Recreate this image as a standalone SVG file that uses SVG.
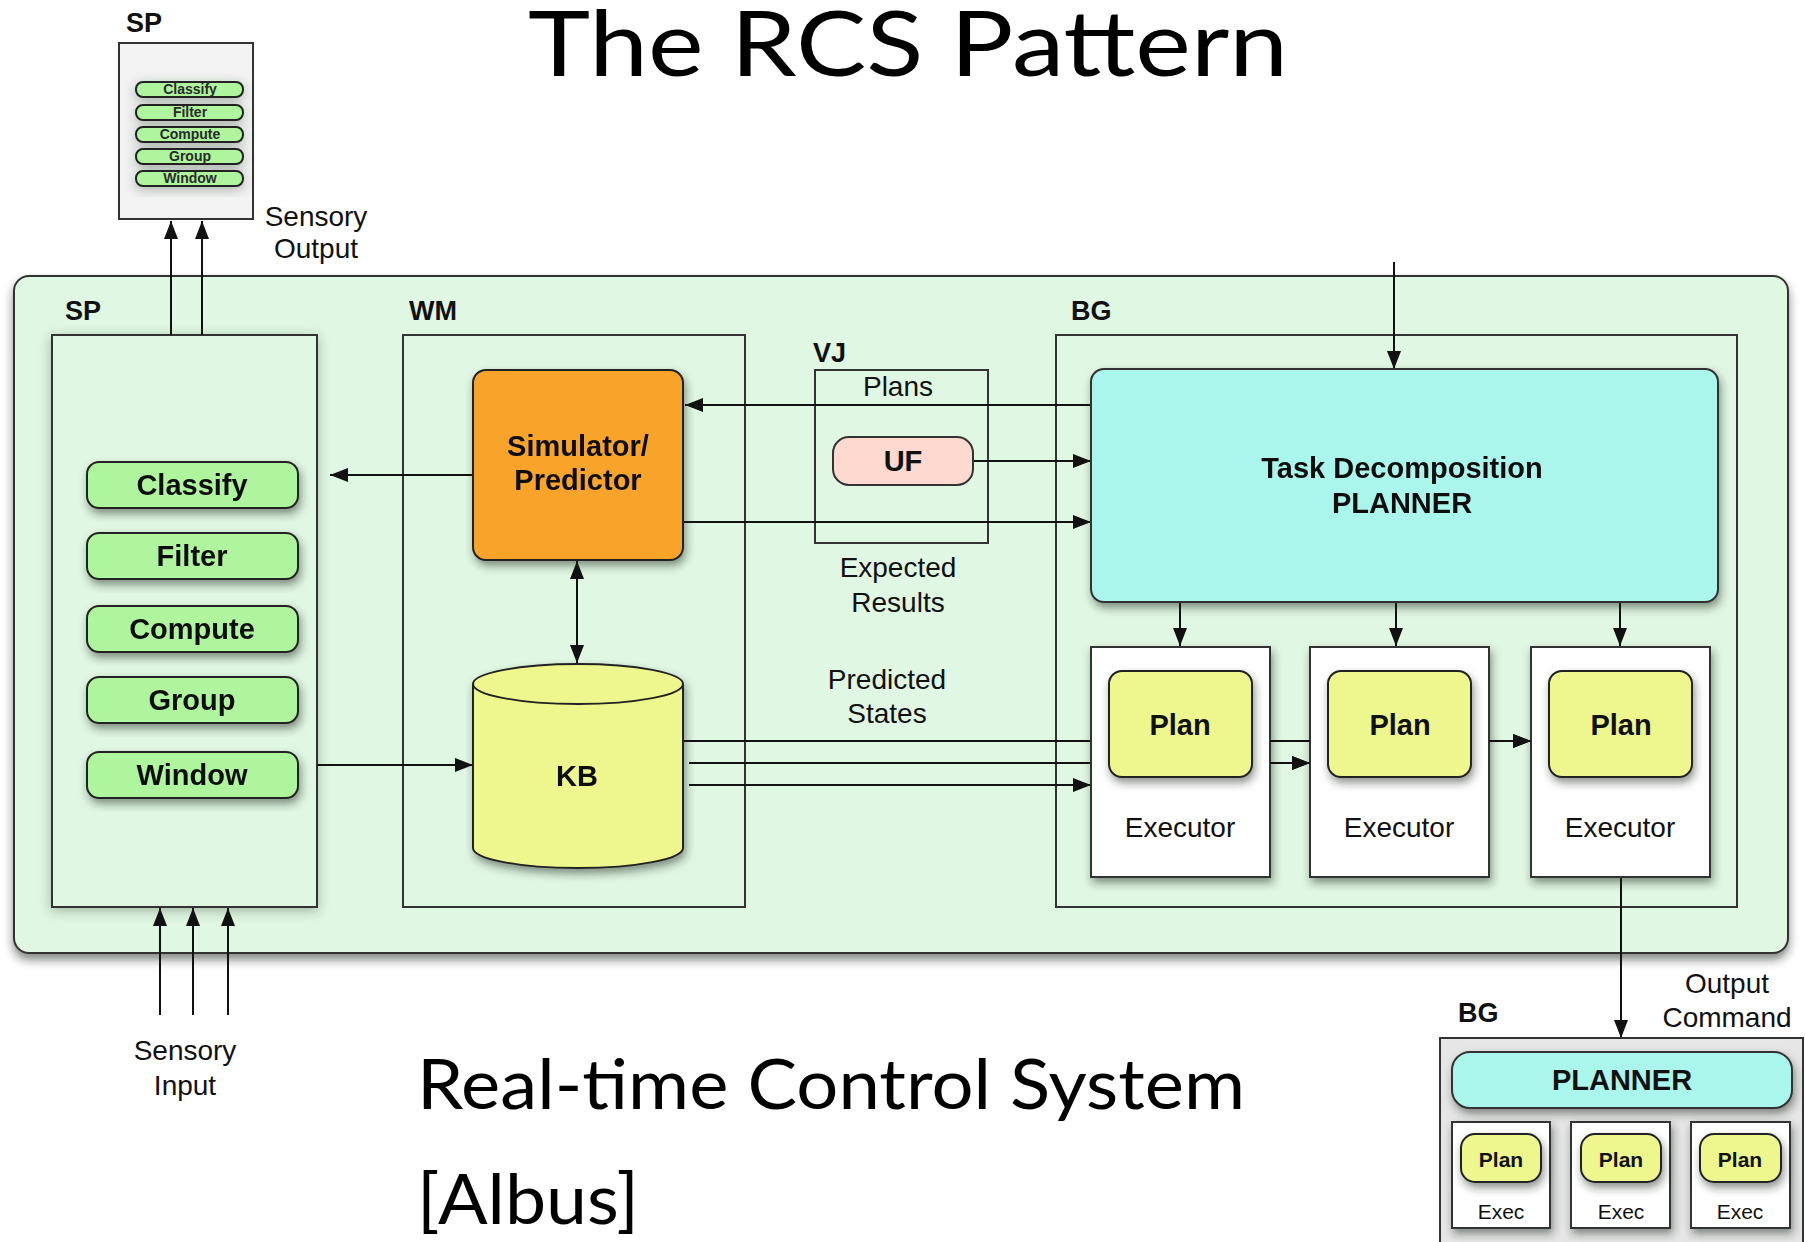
<svg xmlns="http://www.w3.org/2000/svg" width="1805" height="1242" viewBox="0 0 1805 1242">
  <defs>
    <marker id="arrow" markerUnits="userSpaceOnUse" markerWidth="18" markerHeight="14" refX="18" refY="7" orient="auto-start-reverse">
      <path d="M0,0 L18,7 L0,14 z" fill="#111"/>
    </marker>
    <filter id="shadow" x="-20%" y="-20%" width="140%" height="150%">
      <feDropShadow dx="0" dy="6" stdDeviation="5" flood-color="#1c2a1c" flood-opacity="0.55"/>
    </filter>
    <filter id="softShadow" x="-20%" y="-20%" width="140%" height="150%">
      <feDropShadow dx="2" dy="5" stdDeviation="4" flood-color="#1c2a1c" flood-opacity="0.5"/>
    </filter>
    <filter id="glow" x="-10%" y="-10%" width="120%" height="120%">
      <feDropShadow dx="0" dy="3" stdDeviation="6" flood-color="#2c3c2c" flood-opacity="0.35"/>
    </filter>
    <style>
      .title { font-family: Lato, "Open Sans", sans-serif; fill: #000; }
      .lbl { font-family: "Liberation Sans", Arial, sans-serif; font-size: 28px; fill: #111; text-anchor: middle; }
      .bold { font-family: "Liberation Sans", Arial, sans-serif; font-size: 29px; font-weight: bold; fill: #111; text-anchor: middle; }
      .tag { font-family: "Liberation Sans", Arial, sans-serif; font-size: 27px; font-weight: bold; fill: #111; }
      .frame { fill: #e0f7e3; stroke: #333; stroke-width: 2; }
      .btn { fill: #aef59e; stroke: #222; stroke-width: 2; }
      .edge { fill: none; stroke: #111; stroke-width: 2; }
      .arr { fill: none; stroke: #111; stroke-width: 2; marker-end: url(#arrow); }
      .plan { fill: #eef78d; stroke: #222; stroke-width: 2; }
      .exec { fill: #fff; stroke: #333; stroke-width: 2; }
      .cyan { fill: #abf6ec; stroke: #333; stroke-width: 2; }
    </style>
  </defs>

  <rect width="1805" height="1242" fill="#fff"/>

  <!-- Headings -->
  <text class="title" x="528" y="76" font-size="92" textLength="760" lengthAdjust="spacingAndGlyphs">The RCS Pattern</text>
  <text class="title" x="417" y="1109" font-size="70" textLength="828" lengthAdjust="spacingAndGlyphs">Real-time Control System</text>
  <text class="title" x="417" y="1224" font-size="70" textLength="222" lengthAdjust="spacingAndGlyphs">[Albus]</text>

  <!-- Upper-level sensory processing (miniature) -->
  <g id="sp-upper">
    <text class="tag" x="126" y="32" font-size="26">SP</text>
    <rect x="119" y="43" width="134" height="176" fill="#f3f3f3" stroke="#333" stroke-width="2"/>
    <g filter="url(#glow)">
      <rect class="btn" x="136" y="82" width="107" height="15" rx="7"/>
      <rect class="btn" x="136" y="105" width="107" height="15" rx="7"/>
      <rect class="btn" x="136" y="127" width="107" height="15" rx="7"/>
      <rect class="btn" x="136" y="149" width="107" height="15" rx="7"/>
      <rect class="btn" x="136" y="171" width="107" height="15" rx="7"/>
    </g>
    <g font-family="Liberation Sans, Arial, sans-serif" font-size="14" font-weight="bold" fill="#2a2a2a" text-anchor="middle">
      <text x="190" y="94">Classify</text>
      <text x="190" y="117">Filter</text>
      <text x="190" y="139">Compute</text>
      <text x="190" y="161">Group</text>
      <text x="190" y="183">Window</text>
    </g>
  </g>

  <!-- Main RCS node -->
  <g id="rcs-node">
    <rect x="14" y="276" width="1774" height="677" rx="15" fill="#e0f7e3" stroke="#333" stroke-width="2" filter="url(#shadow)"/>
    <text class="tag" x="65" y="320">SP</text>
    <text class="tag" x="409" y="320">WM</text>
    <text class="tag" x="1071" y="320">BG</text>
    <text class="tag" x="813" y="362">VJ</text>
  </g>

  <!-- Module frames -->
  <g id="sp-frame">
    <rect class="frame" x="52" y="335" width="265" height="572" filter="url(#glow)"/>
  </g>
  <g id="wm-frame">
    <rect class="frame" x="403" y="335" width="342" height="572"/>
  </g>
  <g id="bg-frame">
    <rect class="frame" x="1056" y="335" width="681" height="572"/>
  </g>
  <g id="vj-frame">
    <rect x="815" y="370" width="173" height="173" fill="none" stroke="#333" stroke-width="2"/>
  </g>

  <!-- Connectors -->
  <g id="connectors">
    <!-- sensory output to upper SP -->
    <line class="arr" x1="171" y1="335" x2="171" y2="221"/>
    <line class="arr" x1="202" y1="335" x2="202" y2="221"/>
    <!-- sensory input -->
    <line class="arr" x1="160" y1="1015" x2="160" y2="908"/>
    <line class="arr" x1="193" y1="1015" x2="193" y2="908"/>
    <line class="arr" x1="228" y1="1015" x2="228" y2="908"/>
    <!-- WM to SP, SP to WM -->
    <line class="arr" x1="473" y1="475" x2="330" y2="475"/>
    <line class="arr" x1="317" y1="765" x2="473" y2="765"/>
    <!-- simulator / KB -->
    <line class="arr" x1="577" y1="663" x2="577" y2="561" marker-start="url(#arrow)"/>
    <!-- plans, UF, expected results -->
    <line class="arr" x1="1091" y1="405" x2="685" y2="405"/>
    <line class="arr" x1="973" y1="461" x2="1091" y2="461"/>
    <line class="arr" x1="684" y1="522" x2="1091" y2="522"/>
    <!-- predicted states -->
    <line class="arr" x1="684" y1="741" x2="1531" y2="741"/>
    <line class="arr" x1="689" y1="763" x2="1310" y2="763"/>
    <line class="arr" x1="689" y1="785" x2="1091" y2="785"/>
    <!-- command input -->
    <line class="arr" x1="1394" y1="262" x2="1394" y2="369"/>
    <!-- planner to executors -->
    <line class="arr" x1="1180" y1="602" x2="1180" y2="646"/>
    <line class="arr" x1="1396" y1="602" x2="1396" y2="646"/>
    <line class="arr" x1="1620" y1="602" x2="1620" y2="646"/>
    <!-- output command -->
    <line class="arr" x1="1621" y1="877" x2="1621" y2="1038"/>
  </g>

  <!-- SP functions -->
  <g id="classify" filter="url(#softShadow)">
    <rect class="btn" x="87" y="462" width="211" height="46" rx="12"/>
    <text class="bold" x="192" y="495">Classify</text>
  </g>
  <g id="filter" filter="url(#softShadow)">
    <rect class="btn" x="87" y="533" width="211" height="46" rx="12"/>
    <text class="bold" x="192" y="566">Filter</text>
  </g>
  <g id="compute" filter="url(#softShadow)">
    <rect class="btn" x="87" y="606" width="211" height="46" rx="12"/>
    <text class="bold" x="192" y="639">Compute</text>
  </g>
  <g id="group" filter="url(#softShadow)">
    <rect class="btn" x="87" y="677" width="211" height="46" rx="12"/>
    <text class="bold" x="192" y="710">Group</text>
  </g>
  <g id="window" filter="url(#softShadow)">
    <rect class="btn" x="87" y="752" width="211" height="46" rx="12"/>
    <text class="bold" x="192" y="785">Window</text>
  </g>

  <!-- World model -->
  <g id="simulator" filter="url(#softShadow)">
    <rect x="473" y="370" width="210" height="190" rx="13" fill="#f8a42a" stroke="#222" stroke-width="2"/>
    <text class="bold" x="578" y="456">Simulator/</text>
    <text class="bold" x="578" y="490">Predictor</text>
  </g>
  <g id="kb" filter="url(#softShadow)">
    <path d="M473,684 L473,848 A105,20 0 0 0 683,848 L683,684" fill="#eef78d" stroke="#222" stroke-width="2"/>
    <ellipse cx="578" cy="684" rx="105" ry="20" fill="#eef78d" stroke="#222" stroke-width="2"/>
    <text class="bold" x="577" y="786">KB</text>
  </g>

  <!-- Value judgment -->
  <g id="uf">
    <rect x="833" y="437" width="140" height="48" rx="16" fill="#fdd9cf" stroke="#333" stroke-width="2"/>
    <text class="bold" x="903" y="471">UF</text>
  </g>

  <!-- Behavior generation -->
  <g id="task-planner" filter="url(#softShadow)">
    <rect class="cyan" x="1091" y="369" width="627" height="233" rx="13"/>
    <text class="bold" x="1402" y="478">Task Decomposition</text>
    <text class="bold" x="1402" y="513">PLANNER</text>
  </g>
  <g id="executor-1">
    <rect class="exec" x="1091" y="647" width="179" height="230" filter="url(#softShadow)"/>
    <rect class="plan" x="1109" y="671" width="143" height="106" rx="13" filter="url(#softShadow)"/>
    <text class="bold" x="1180" y="735">Plan</text>
    <text class="lbl" x="1180" y="837">Executor</text>
  </g>
  <g id="executor-2">
    <rect class="exec" x="1310" y="647" width="179" height="230" filter="url(#softShadow)"/>
    <rect class="plan" x="1328" y="671" width="143" height="106" rx="13" filter="url(#softShadow)"/>
    <text class="bold" x="1400" y="735">Plan</text>
    <text class="lbl" x="1399" y="837">Executor</text>
  </g>
  <g id="executor-3">
    <rect class="exec" x="1531" y="647" width="179" height="230" filter="url(#softShadow)"/>
    <rect class="plan" x="1549" y="671" width="143" height="106" rx="13" filter="url(#softShadow)"/>
    <text class="bold" x="1621" y="735">Plan</text>
    <text class="lbl" x="1620" y="837">Executor</text>
  </g>
  <!-- connector segments re-drawn across the gaps between executors -->
  <g id="gap-lines">
    <line class="edge" x1="1270" y1="741" x2="1310" y2="741"/>
    <line class="arr" x1="1270" y1="763" x2="1310" y2="763"/>
    <line class="arr" x1="1489" y1="741" x2="1531" y2="741"/>
  </g>

  <!-- Lower-level behavior generation (miniature) -->
  <g id="bg-lower">
    <text class="tag" x="1458" y="1022" font-size="26">BG</text>
    <rect x="1440" y="1038" width="363" height="220" fill="#e6e6e6" stroke="#333" stroke-width="2"/>
    <rect class="cyan" x="1452" y="1052" width="340" height="56" rx="18" filter="url(#softShadow)"/>
    <text class="bold" x="1622" y="1090">PLANNER</text>
    <g filter="url(#softShadow)">
      <rect class="exec" x="1452" y="1122" width="98" height="106"/>
      <rect class="exec" x="1571" y="1122" width="99" height="106"/>
      <rect class="exec" x="1691" y="1122" width="99" height="106"/>
    </g>
    <g filter="url(#softShadow)">
      <rect class="plan" x="1461" y="1134" width="80" height="48" rx="14"/>
      <rect class="plan" x="1581" y="1134" width="80" height="48" rx="14"/>
      <rect class="plan" x="1700" y="1134" width="81" height="48" rx="14"/>
    </g>
    <g font-family="Liberation Sans, Arial, sans-serif" font-size="21" fill="#111" text-anchor="middle">
      <text x="1501" y="1167" font-weight="bold">Plan</text>
      <text x="1621" y="1167" font-weight="bold">Plan</text>
      <text x="1740" y="1167" font-weight="bold">Plan</text>
      <text x="1501" y="1219">Exec</text>
      <text x="1621" y="1219">Exec</text>
      <text x="1740" y="1219">Exec</text>
    </g>
  </g>

  <!-- Connector labels -->
  <g id="labels">
    <text class="lbl" x="316" y="226">Sensory</text>
    <text class="lbl" x="316" y="258">Output</text>
    <text class="lbl" x="898" y="396">Plans</text>
    <text class="lbl" x="898" y="577">Expected</text>
    <text class="lbl" x="898" y="612">Results</text>
    <text class="lbl" x="887" y="689">Predicted</text>
    <text class="lbl" x="887" y="723">States</text>
    <text class="lbl" x="185" y="1060">Sensory</text>
    <text class="lbl" x="185" y="1095">Input</text>
    <text class="lbl" x="1727" y="993">Output</text>
    <text class="lbl" x="1727" y="1027">Command</text>
  </g>
</svg>
